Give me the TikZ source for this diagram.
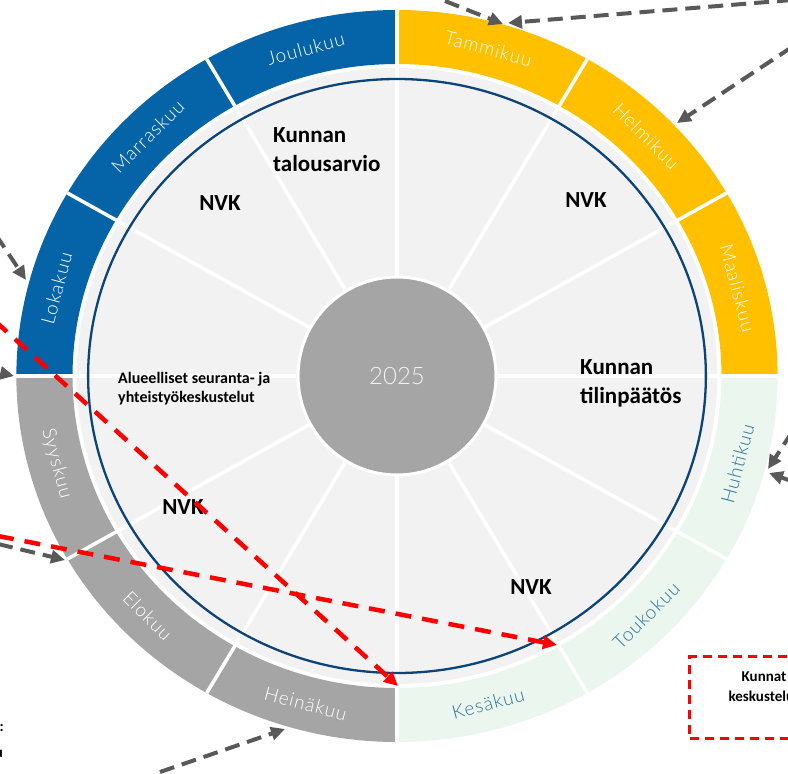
\documentclass[tikz,border=0pt]{standalone}
\usepackage{fontspec}
\setmainfont{Carlito}
\newfontfamily\monthfont{Lato Light}[LetterSpace=5]
\newfontfamily\hubfont{Lato Light}
\usepackage{tikz}
\usetikzlibrary{arrows.meta}
\definecolor{qyellow}{RGB}{255,192,0}
\definecolor{qgreen}{RGB}{235,246,238}
\definecolor{qgrey}{RGB}{165,165,165}
\definecolor{qblue}{RGB}{5,99,168}
\definecolor{qteal}{RGB}{45,115,150}
\definecolor{diskgrey}{RGB}{242,242,242}
\definecolor{ringblue}{RGB}{12,68,120}
\definecolor{arrowgrey}{RGB}{89,89,89}
\tikzset{month label/.style={font=\monthfont\fontsize{19}{19}\selectfont, inner sep=0pt},
  event label/.style={font=\bfseries\fontsize{23}{29}\selectfont, align=left, inner sep=0pt},
  small label/.style={font=\bfseries\fontsize{16}{19}\selectfont, align=left, inner sep=0pt},
  note label/.style={font=\bfseries\fontsize{15}{20}\selectfont, align=center, inner sep=0pt},
  red box/.style={draw=red, line width=3pt, dash pattern=on 9pt off 6pt},
  grey arrow/.style={->, draw=arrowgrey, line width=4pt, dash pattern=on 15pt off 8pt},
  red arrow/.style={->, draw=red, line width=4.5pt, dash pattern=on 16pt off 11pt},}

\begin{document}
\begin{tikzpicture}[x=1pt, y=1pt, >={Triangle[length=14pt,width=13pt]}]
	\useasboundingbox (0,0) rectangle (788,-774);
	\clip (0,0) rectangle (788,-774);

	\begin{scope}[shift={(397,-376)}, xscale=1.04]
		\foreach \name/\fillc/\textc [count=\i from 0] in {Tammikuu/qyellow/white, Helmikuu/qyellow/white, Maaliskuu/qyellow/white,
			Huhtikuu/qgreen/qteal, Toukokuu/qgreen/qteal, Kesäkuu/qgreen/qteal,
			Heinäkuu/qgrey/white, Elokuu/qgrey/white, Syyskuu/qgrey/white,
			Lokakuu/qblue/white, Marraskuu/qblue/white, Joulukuu/qblue/white}
		{
			\pgfmathsetmacro{\midang}{75-30*\i}
			\pgfmathsetmacro{\rot}{sin(\midang)>0 ? \midang-90 : \midang+90}
			\fill[\fillc] (\midang+15:312) arc[start angle=\midang+15, end angle=\midang-15, radius=312]
				-- (\midang-15:366) arc[start angle=\midang-15, end angle=\midang+15, radius=366] -- cycle;
			\node[month label, text=\textc, rotate=\rot] (m\i) at (\midang:339) {\name};
		}
		\fill[diskgrey] (0,0) circle[radius=308];
		\foreach \a in {0,30,...,330}
			\draw[white, line width=3.5pt] (\a:97) -- (\a:366);
		\draw[ringblue, line width=2.3pt] (0,0) circle[radius=297];
	\end{scope}
	\node[circle, fill=qgrey, draw=white, line width=3pt, minimum size=198pt, text=diskgrey,
		font=\hubfont\fontsize{24}{24}\selectfont] (hub) at (397,-376) {2025};

	\node[event label, anchor=north west] (budget) at (273,-127) {Kunnan\\talousarvio};
	\node[event label] (nvk1) at (220,-203) {NVK};
	\node[event label] (nvk2) at (586,-200) {NVK};
	\node[event label, anchor=north west] (accounts) at (580,-359) {Kunnan\\tilinpäätös};
	\node[small label, anchor=north west] (regional) at (118,-372) {Alueelliset seuranta- ja\\yhteistyökeskustelut};
	\node[event label] (nvk3) at (183,-507) {NVK};
	\node[event label] (nvk4) at (531,-587) {NVK};

	\node[red box, minimum width=150pt, minimum height=82pt, anchor=north west] (talks box) at (688,-655) {};
	\node[note label] (talks) at (764,-687) {Kunnat\\keskustelut};
	\node[note label, anchor=east] (frag1) at (4,-728) {:};
	\node[note label, anchor=east] (frag2) at (3,-754) {u};

	\coordinate (jan a src) at (445,-1);
	\coordinate (jan a tip) at (503,-24);
	\coordinate (jan b src) at (792,0);
	\coordinate (jan b tip) at (508,-23);
	\coordinate (feb src) at (792,-47);
	\coordinate (feb tip) at (677,-123);
	\coordinate (apr a src) at (792,-432);
	\coordinate (apr a tip) at (768,-469);
	\coordinate (apr b src) at (794,-482);
	\coordinate (apr b tip) at (769,-473);
	\coordinate (oct src) at (-4,-235);
	\coordinate (oct tip) at (26,-280);
	\coordinate (sep src) at (-40,-364);
	\coordinate (sep tip) at (14,-376);
	\coordinate (aug src) at (-2,-544);
	\coordinate (aug tip) at (65,-560);
	\coordinate (jul src) at (160,-772);
	\coordinate (jul tip) at (285,-729);
	\coordinate (red a src) at (-5,-321);
	\coordinate (red a tip) at (398,-686);
	\coordinate (red b src) at (-2,-536);
	\coordinate (red b tip) at (557,-645);

	\draw[grey arrow] (jan a src) -- (jan a tip);
	\draw[grey arrow] (jan b src) -- (jan b tip);
	\draw[grey arrow] (feb src) -- (feb tip);
	\draw[grey arrow] (apr a src) -- (apr a tip);
	\draw[grey arrow] (apr b src) -- (apr b tip);
	\draw[grey arrow] (oct src) -- (oct tip);
	\draw[grey arrow] (sep src) -- (sep tip);
	\draw[grey arrow] (aug src) -- (aug tip);
	\draw[grey arrow] (jul src) -- (jul tip);
	\draw[red arrow] (red a src) -- (red a tip);
	\draw[red arrow] (red b src) -- (red b tip);
\end{tikzpicture}
\end{document}
